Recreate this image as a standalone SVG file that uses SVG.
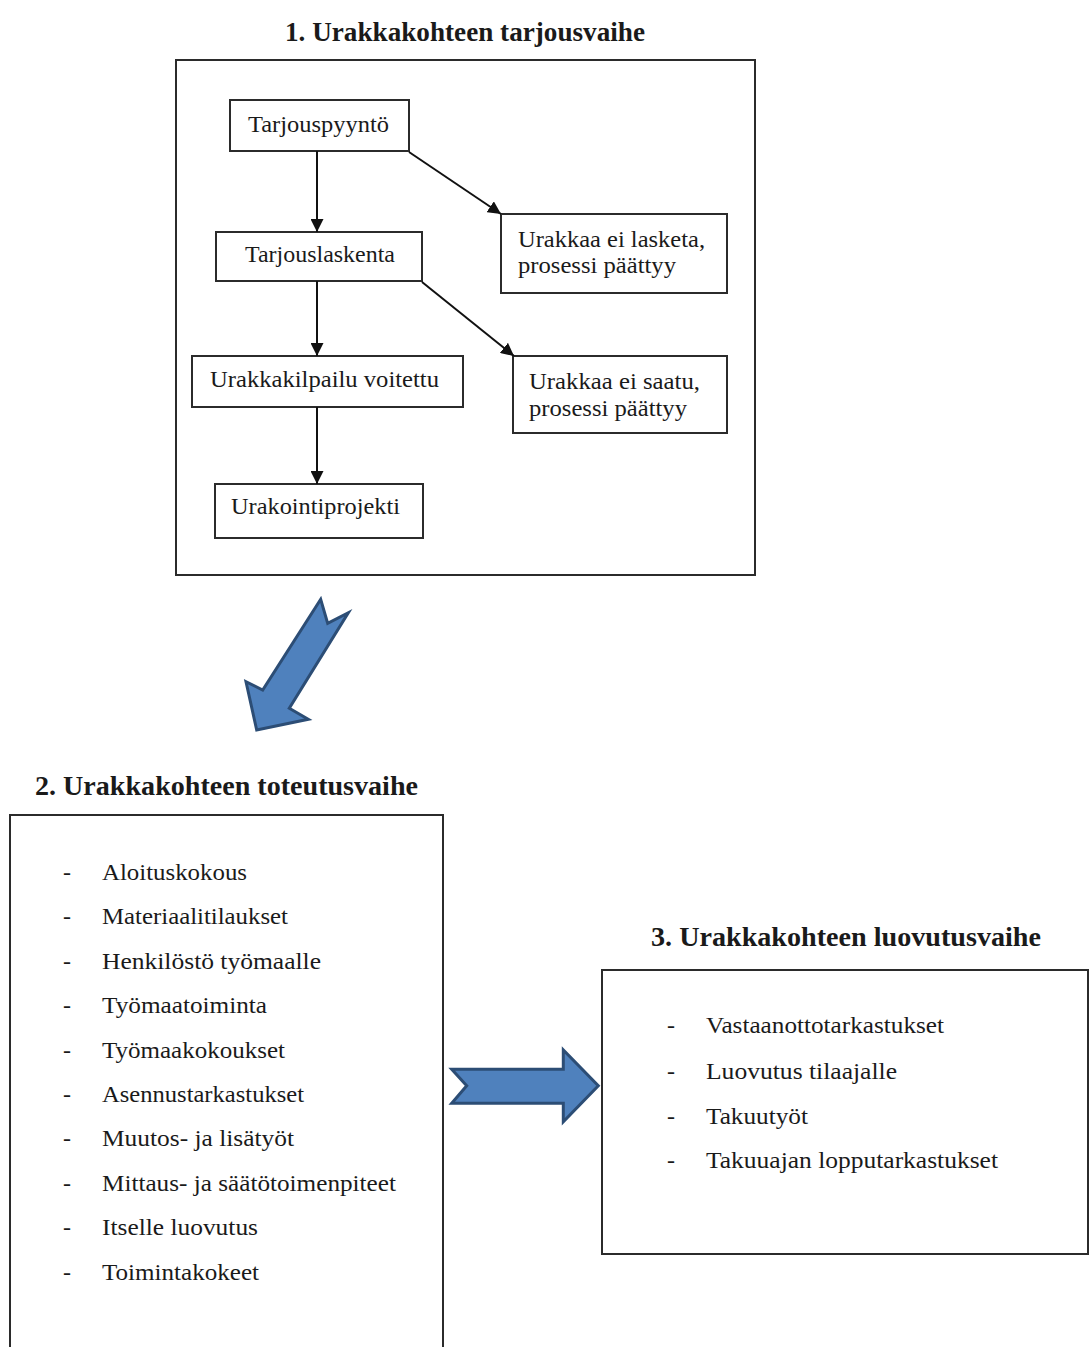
<svg xmlns="http://www.w3.org/2000/svg" width="1090" height="1347" viewBox="0 0 1090 1347">
<style>
  .bg{fill:#ffffff}
  .frame{fill:#ffffff;stroke:#2b2b2b;stroke-width:2}
  .node rect{fill:#ffffff;stroke:#2b2b2b;stroke-width:2}
  text{font-family:"Liberation Serif","Times New Roman",serif;fill:#1a1a1a}
  .t{font-size:24px}
  .title{font-size:27px;font-weight:bold}
  .li{font-size:24px}
  .conn line{stroke:#111;stroke-width:2;fill:none}
  .big{fill:#4f81bd;stroke:#2c4d75;stroke-width:3;stroke-linejoin:miter}
</style>
<defs>
  <marker id="ah" viewBox="0 0 10 10" refX="10" refY="5" markerWidth="6.5" markerHeight="6.5" orient="auto" markerUnits="strokeWidth">
    <path d="M0,0 L10,5 L0,10 Z" fill="#111"/>
  </marker>
</defs>
<rect class="bg" x="0" y="0" width="1090" height="1347"/>

<!-- Section 1 -->
<text class="title" x="285" y="41" textLength="360" lengthAdjust="spacingAndGlyphs">1. Urakkakohteen tarjousvaihe</text>
<rect class="frame" x="176" y="60" width="579" height="515"/>

<g id="tarjouspyynto" class="node">
  <rect x="230" y="100" width="179" height="51"/>
  <text class="t" x="248" y="132" textLength="141" lengthAdjust="spacingAndGlyphs">Tarjouspyyntö</text>
</g>
<g id="tarjouslaskenta" class="node">
  <rect x="216" y="232" width="206" height="49"/>
  <text class="t" x="245" y="262" textLength="150" lengthAdjust="spacingAndGlyphs">Tarjouslaskenta</text>
</g>
<g id="urakkakilpailu" class="node">
  <rect x="192" y="356" width="271" height="51"/>
  <text class="t" x="210" y="387" textLength="229" lengthAdjust="spacingAndGlyphs">Urakkakilpailu voitettu</text>
</g>
<g id="urakointiprojekti" class="node">
  <rect x="215" y="484" width="208" height="54"/>
  <text class="t" x="231" y="514" textLength="169" lengthAdjust="spacingAndGlyphs">Urakointiprojekti</text>
</g>
<g id="ei-lasketa" class="node">
  <rect x="501" y="214" width="226" height="79"/>
  <text class="t" x="518" y="247" textLength="187" lengthAdjust="spacingAndGlyphs">Urakkaa ei lasketa,</text>
  <text class="t" x="518" y="273" textLength="158" lengthAdjust="spacingAndGlyphs">prosessi päättyy</text>
</g>
<g id="ei-saatu" class="node">
  <rect x="513" y="356" width="214" height="77"/>
  <text class="t" x="529" y="389" textLength="171" lengthAdjust="spacingAndGlyphs">Urakkaa ei saatu,</text>
  <text class="t" x="529" y="416" textLength="158" lengthAdjust="spacingAndGlyphs">prosessi päättyy</text>
</g>

<g id="connectors" class="conn">
  <line x1="317" y1="151" x2="317" y2="232" marker-end="url(#ah)"/>
  <line x1="317" y1="281" x2="317" y2="356" marker-end="url(#ah)"/>
  <line x1="317" y1="407" x2="317" y2="484" marker-end="url(#ah)"/>
  <line x1="409" y1="152" x2="501" y2="214" marker-end="url(#ah)"/>
  <line x1="422" y1="282" x2="514" y2="356" marker-end="url(#ah)"/>
</g>

<!-- Big block arrows -->
<g id="arrow-down">
  <polygon class="big" points="320.7,599.3 327.7,623.3 348.3,612.7 289.3,708.3 308.3,719.3 256.7,730 246,681.7 262.7,690"/>
</g>
<g id="arrow-right">
  <polygon class="big" points="451.7,1069.3 466.7,1085.7 451.7,1103.3 563.3,1103.3 563.3,1121.7 598.3,1085.7 563.3,1050 563.3,1069.3"/>
</g>

<!-- Section 2 -->
<text class="title" x="35" y="795" textLength="383" lengthAdjust="spacingAndGlyphs">2. Urakkakohteen toteutusvaihe</text>
<g id="toteutusvaihe">
  <rect class="frame" x="10" y="815" width="433" height="560"/>
  <g class="li">
    <text x="63" y="880">-</text><text x="102" y="880" textLength="145" lengthAdjust="spacingAndGlyphs">Aloituskokous</text>
    <text x="63" y="924.4">-</text><text x="102" y="924.4" textLength="186" lengthAdjust="spacingAndGlyphs">Materiaalitilaukset</text>
    <text x="63" y="968.8">-</text><text x="102" y="968.8" textLength="219" lengthAdjust="spacingAndGlyphs">Henkilöstö työmaalle</text>
    <text x="63" y="1013.2">-</text><text x="102" y="1013.2" textLength="165" lengthAdjust="spacingAndGlyphs">Työmaatoiminta</text>
    <text x="63" y="1057.6">-</text><text x="102" y="1057.6" textLength="183" lengthAdjust="spacingAndGlyphs">Työmaakokoukset</text>
    <text x="63" y="1102">-</text><text x="102" y="1102" textLength="202" lengthAdjust="spacingAndGlyphs">Asennustarkastukset</text>
    <text x="63" y="1146.4">-</text><text x="102" y="1146.4" textLength="192" lengthAdjust="spacingAndGlyphs">Muutos- ja lisätyöt</text>
    <text x="63" y="1190.8">-</text><text x="102" y="1190.8" textLength="294" lengthAdjust="spacingAndGlyphs">Mittaus- ja säätötoimenpiteet</text>
    <text x="63" y="1235.2">-</text><text x="102" y="1235.2" textLength="156" lengthAdjust="spacingAndGlyphs">Itselle luovutus</text>
    <text x="63" y="1279.6">-</text><text x="102" y="1279.6" textLength="157" lengthAdjust="spacingAndGlyphs">Toimintakokeet</text>
  </g>
</g>

<!-- Section 3 -->
<text class="title" x="651" y="946" textLength="390" lengthAdjust="spacingAndGlyphs">3. Urakkakohteen luovutusvaihe</text>
<g id="luovutusvaihe">
  <rect class="frame" x="602" y="970" width="486" height="284"/>
  <g class="li">
    <text x="667" y="1033">-</text><text x="706" y="1033" textLength="238" lengthAdjust="spacingAndGlyphs">Vastaanottotarkastukset</text>
    <text x="667" y="1078.5">-</text><text x="706" y="1078.5" textLength="191" lengthAdjust="spacingAndGlyphs">Luovutus tilaajalle</text>
    <text x="667" y="1124">-</text><text x="706" y="1124" textLength="102" lengthAdjust="spacingAndGlyphs">Takuutyöt</text>
    <text x="667" y="1168">-</text><text x="706" y="1168" textLength="292" lengthAdjust="spacingAndGlyphs">Takuuajan lopputarkastukset</text>
  </g>
</g>
</svg>
